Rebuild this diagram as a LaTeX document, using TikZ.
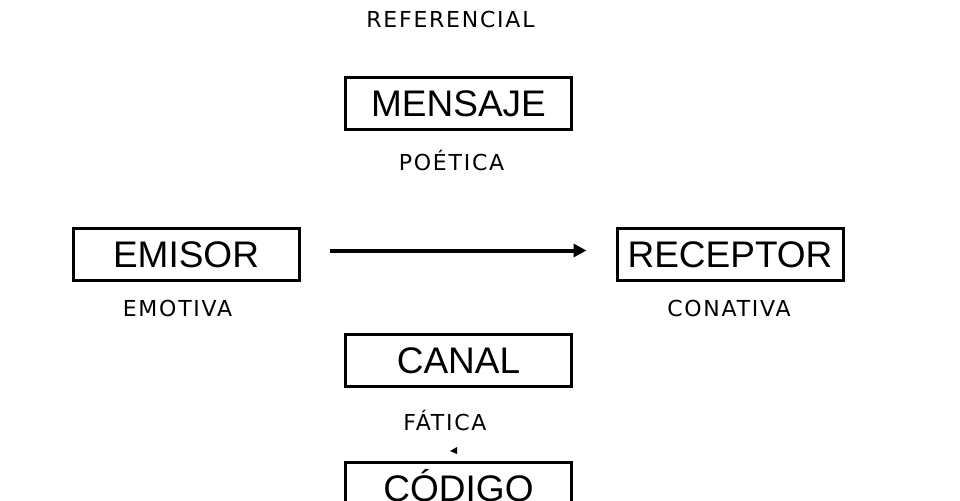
\documentclass[tikz,border=0pt]{standalone}
\usepackage{fontspec}
\usetikzlibrary{arrows.meta}
\newfontfamily\cajafont{Liberation Sans}
\newfontfamily\funcfont[LetterSpace=8]{DejaVu Sans}

\begin{document}
\begin{tikzpicture}[x={(0.5pt,0pt)},y={(0pt,-0.5pt)},
	caja/.style={draw,line width=1.5pt,minimum width=113pt,minimum height=26pt,inner sep=0pt,
		text height=13.2pt,text depth=0pt,font=\cajafont\fontsize{18.5}{21}\selectfont},
	funcion/.style={anchor=base,inner sep=0pt,font=\funcfont\fontsize{11}{13}\selectfont}]
	\path[use as bounding box] (0,0) rectangle (960,500);
	\clip (0,0) rectangle (960,500);
	% cajas
	\node[caja] (mensaje) at (458.5,103) {MENSAJE};
	\node[caja] (emisor) at (186,254.5) {EMISOR};
	\node[caja] (receptor) at (730,254.5) {RECEPTOR};
	\node[caja] (canal) at (458.5,360) {CANAL};
	\node[caja] (codigo) at (458.5,488.5) {CÓDIGO};
	% funciones
	\node[funcion] (referencial) at (450.5,27) {REFERENCIAL};
	\node[funcion] (poetica) at (451.5,170) {POÉTICA};
	\node[funcion] (emotiva) at (177.5,316) {EMOTIVA};
	\node[funcion] (conativa) at (729,316) {CONATIVA};
	\node[funcion] (fatica) at (445,430) {FÁTICA};
	\draw[line width=2pt,-{Triangle[length=6.5pt,width=6.5pt]},shorten <=14.5pt,shorten >=14.5pt]
		([yshift=2pt]emisor.east) -- ([yshift=2pt]receptor.west);
	\fill (450,451) -- (457,447) -- (457,454) -- cycle;
\end{tikzpicture}
\end{document}
